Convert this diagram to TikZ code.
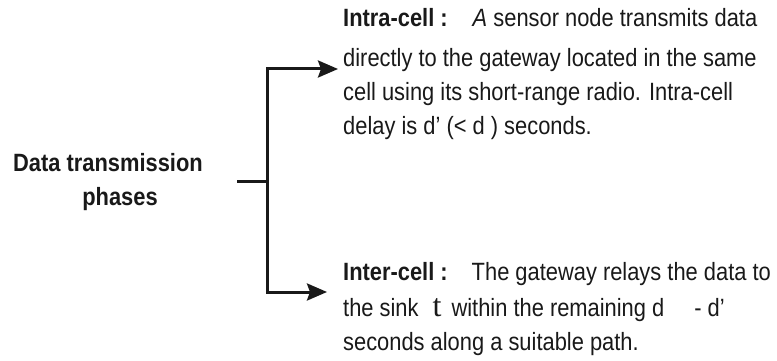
\documentclass[tikz,border=0pt]{standalone}
\usepackage{fontspec}
\setmainfont{Liberation Sans}[FakeStretch=0.875]
\newfontfamily\sinkfont{Liberation Serif}
\usetikzlibrary{arrows.meta}

\begin{document}
\begin{tikzpicture}[x=1pt,y=-1pt,
    txt/.style={inner sep=0pt, align=left, anchor=base west, text=black!90,
      font=\fontsize{25}{34}\selectfont},
    link/.style={line width=3pt, draw=black!90},
    tip/.style={-{Stealth[length=20pt,width=17pt,inset=3pt]}}]
  \useasboundingbox (0,0) rectangle (777,361);
  % phases label
  \node[txt, align=center, anchor=base] (phases) at (108,205)
    {\textbf{Data transmission}\\\hspace*{24pt}\textbf{phases}};
  % the two phases
  \node[txt] (intra) at (343,134)
    {\textbf{Intra-cell :}\hspace{25pt}\textit{A} sensor node transmits data\\[6pt]
     directly to the gateway located in the same\\
     cell using its short-range radio. Intra-cell\\
     delay is d’ (< d ) seconds.};
  \node[txt] (inter) at (343,350)
    {\textbf{Inter-cell :}\hspace{24pt}The gateway relays the data to\\[2pt]
     the sink\hspace{14pt}{\sinkfont\fontsize{32}{32}\selectfont t}\hspace{4pt} within the remaining d\hspace{30pt}- d’\\
     seconds along a suitable path.};
  % bracket
  \coordinate (stub) at (237,181);
  \coordinate (fork) at (267,181);
  \coordinate (intrain) at (338,69);
  \coordinate (interin) at (327,292);
  \draw[link] (stub) -- (fork);
  \draw[link,tip] (fork) |- (intrain);
  \draw[link,tip] (fork) |- (interin);
\end{tikzpicture}
\end{document}
